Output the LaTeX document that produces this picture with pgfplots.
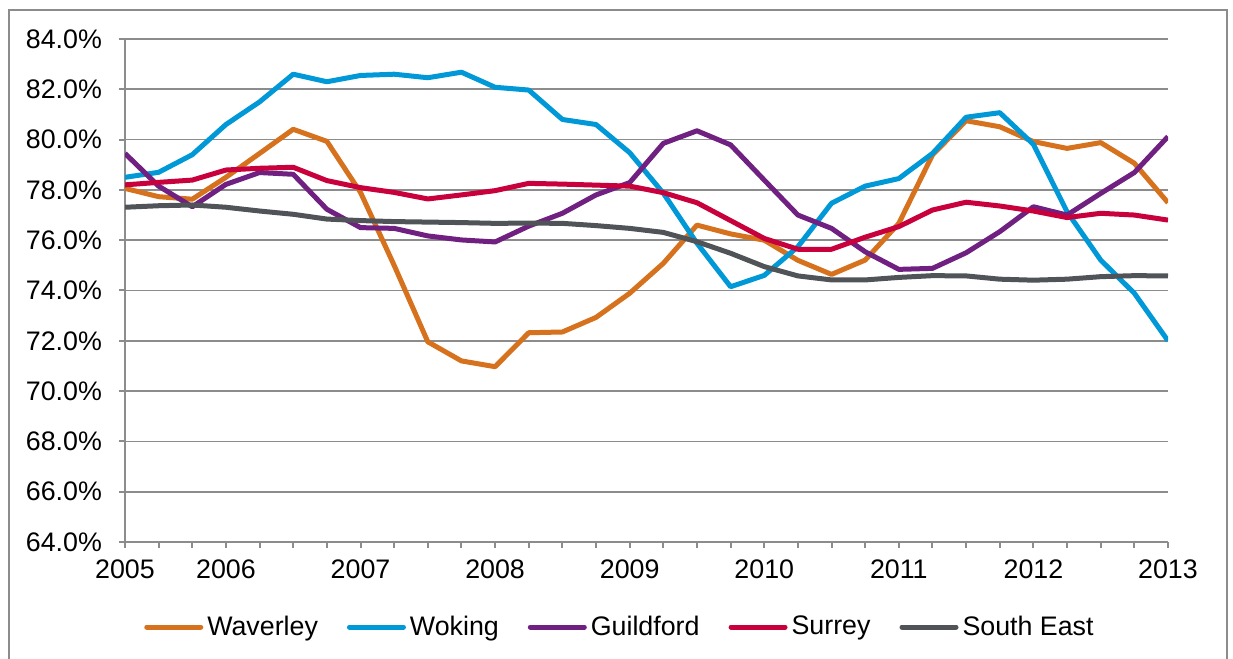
\documentclass[border=0pt]{standalone}
\usepackage{fontspec}
\setmainfont{Liberation Sans}
\usepackage{pgfplots}
\usepackage{pgfplotstable}
\pgfplotsset{compat=1.18}

\definecolor{cWav}{HTML}{D6711E}
\definecolor{cWok}{HTML}{0098D6}
\definecolor{cGui}{HTML}{702080}
\definecolor{cSur}{HTML}{C8003C}
\definecolor{cSE}{HTML}{505458}
\definecolor{axgray}{HTML}{8C8C8C}

% quarterly series, q = quarter index (0 = 2005, 31 = 2013)
\pgfplotstableread{
q  wav   wok   gui   sur   se
0  78.06 78.50 79.45 78.20 77.31
1  77.73 78.70 78.15 78.30 77.37
2  77.63 79.40 77.33 78.39 77.40
3  78.50 80.60 78.22 78.79 77.31
4  79.45 81.50 78.69 78.86 77.16
5  80.41 82.60 78.62 78.90 77.03
6  79.93 82.30 77.23 78.37 76.84
7  77.90 82.55 76.50 78.09 76.78
8  75.00 82.60 76.47 77.90 76.74
9  71.96 82.46 76.17 77.64 76.72
10 71.20 82.68 76.01 77.80 76.70
11 70.97 82.08 75.93 77.97 76.67
12 72.32 81.97 76.56 78.26 76.68
13 72.35 80.80 77.07 78.23 76.67
14 72.93 80.60 77.80 78.19 76.58
15 73.89 79.48 78.29 78.15 76.47
16 75.08 77.87 79.85 77.89 76.31
17 76.60 75.88 80.35 77.49 75.94
18 76.25 74.15 79.79 76.78 75.48
19 76.00 74.60 78.39 76.07 74.95
20 75.20 75.74 77.00 75.64 74.58
21 74.64 77.47 76.47 75.64 74.42
22 75.21 78.15 75.54 76.12 74.42
23 76.67 78.45 74.84 76.54 74.52
24 79.39 79.45 74.88 77.20 74.59
25 80.75 80.89 75.50 77.51 74.58
26 80.51 81.07 76.34 77.36 74.45
27 79.92 79.81 77.33 77.16 74.41
28 79.65 77.13 77.00 76.90 74.45
29 79.88 75.21 77.86 77.07 74.55
30 79.06 73.89 78.69 77.00 74.59
31 77.49 72.00 80.12 76.80 74.58
}\rates

\begin{document}
\begin{tikzpicture}
\useasboundingbox (0,0) rectangle (616.5pt,329.5pt);
\draw[axgray, line width=1pt] (4.5pt,-1pt) -- (4.5pt,324.5pt) -- (613.5pt,324.5pt) -- (613.5pt,-1pt);
\begin{axis}[
    at={(62.5pt,58.5pt)}, anchor=south west,
    scale only axis, width=521.5pt, height=251.5pt,
    xmin=0, xmax=31, ymin=64, ymax=84,
    axis x line*=bottom, axis y line*=left,
    axis line style={axgray, line width=1pt},
    tick style={axgray, line width=1pt},
    tick align=outside, major tick length=3pt, minor tick length=3pt,
    xtick={0,3,7,11,15,19,23,27,31},
    xticklabels={2005,2006,2007,2008,2009,2010,2011,2012,2013},
    minor xtick={0,...,31},
    ytick={64,66,...,84},
    yticklabel={\pgfmathprintnumber[fixed,fixed zerofill,precision=1]{\tick}\%},
    /pgf/number format/assume math mode=true,
    ticklabel style={font=\fontsize{13.4}{16}\selectfont, text=black},
    xticklabel style={yshift=-2.5pt},
    yticklabel style={xshift=-5pt},
    ymajorgrids, grid style={axgray, line width=0.85pt},
    legend columns=5,
    legend style={at={(0.4755,-0.169)}, anchor=center, draw=none,
        font=\fontsize{13.4}{16}\selectfont,
        /tikz/every even column/.append style={column sep=12.5pt}},
    legend image code/.code={\draw[#1, line cap=round] (0pt,0pt) -- (27pt,0pt);},
    every axis plot/.append style={line width=2.5pt, line join=round},
]
\addplot[cWav] table[x=q, y=wav] {\rates};
\addplot[cWok] table[x=q, y=wok] {\rates};
\addplot[cGui] table[x=q, y=gui] {\rates};
\addplot[cSur] table[x=q, y=sur] {\rates};
\addplot[cSE]  table[x=q, y=se]  {\rates};
\legend{Waverley, Woking, Guildford, Surrey, South East}
\end{axis}
\end{tikzpicture}
\end{document}
